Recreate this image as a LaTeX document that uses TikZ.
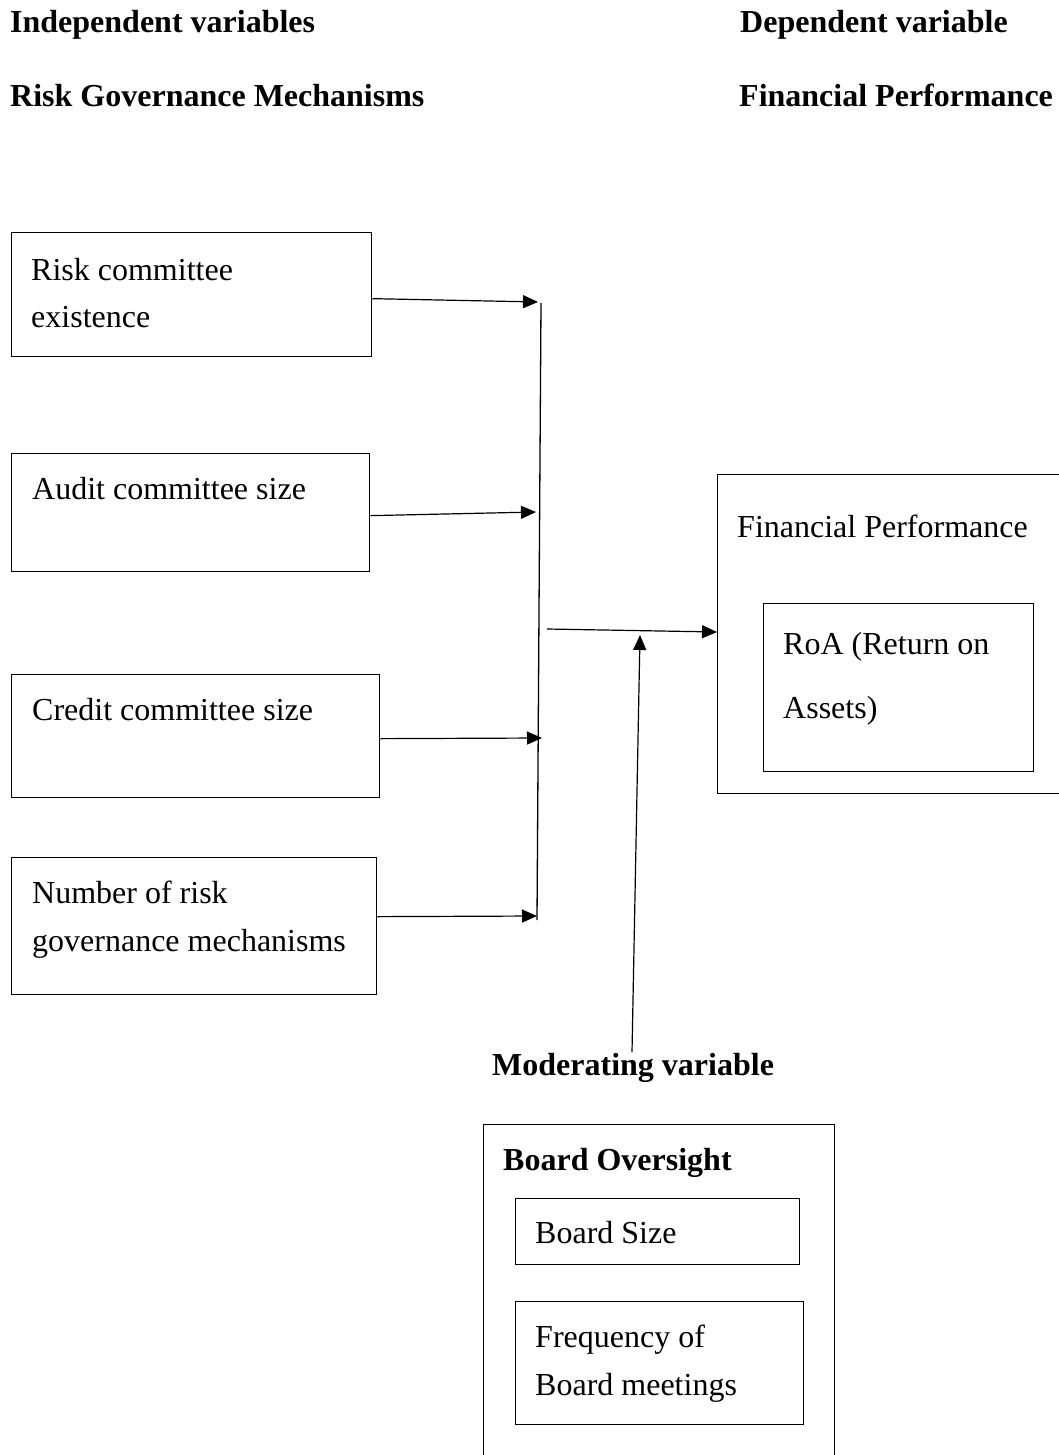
\documentclass[tikz,border=0pt]{standalone}
\usepackage{fontspec}
\setmainfont{Liberation Serif}
\usetikzlibrary{arrows.meta}
\begin{document}
\begin{tikzpicture}[x=1pt,y=-1pt,
  box/.style={draw,line width=1.3pt,anchor=north west,inner sep=0pt},
  txt/.style={anchor=base west,inner sep=0pt,font=\fontsize{32}{48}\selectfont},
  btxt/.style={anchor=base west,inner sep=0pt,font=\fontsize{32}{48}\selectfont\bfseries},
  arr/.style={line width=1.2pt,-{Triangle[length=15pt,width=13pt]}},
  ln/.style={line width=1.3pt}]
\useasboundingbox[fill=white] (0,0) rectangle (1059,1455);
% headers
\node[btxt] (h1) at (10,33) {Independent variables};
\node[btxt] (h2) at (740,33) {Dependent variable};
\node[btxt] (h3) at (10,107) {Risk Governance Mechanisms};
\node[btxt] (h4) at (739,107) {Financial Performance};
% independent boxes
\node[box,minimum width=360pt,minimum height=124pt] (b1) at (11,232) {};
\node[txt] (t1a) at (31,280) {Risk committee};
\node[txt] (t1b) at (31,327) {existence};
\node[box,minimum width=358pt,minimum height=118pt] (b2) at (11,453) {};
\node[txt] (t2) at (32,499) {Audit committee size};
\node[box,minimum width=368pt,minimum height=123pt] (b3) at (11,674) {};
\node[txt] (t3) at (32,720) {Credit committee size};
\node[box,minimum width=365pt,minimum height=137pt] (b4) at (11,857) {};
\node[txt] (t4a) at (32,903) {Number of risk};
\node[txt] (t4b) at (32,951) {governance mechanisms};
% collecting line
\coordinate (vtop) at (541,303);
\coordinate (vbot) at (537,920);
\draw[ln] (vtop) -- (vbot);
\coordinate (e1) at (538,302);
\coordinate (e2) at (536,512);
\coordinate (e3) at (542,738);
\coordinate (e4) at (537,916);
\draw[arr] ([yshift=-4pt]b1.east) -- (e1);
\draw[arr] ([yshift=-3pt]b2.east) -- (e2);
\draw[arr] ([yshift=-2.5pt]b3.east) -- (e3);
\draw[arr] ([yshift=9.5pt]b4.east) -- (e4);
% dependent box
\node[box,minimum width=360pt,minimum height=319pt] (dep) at (717,474) {};
\node[txt] (dept) at (737,537) {Financial Performance};
\node[box,minimum width=270pt,minimum height=168pt] (roa) at (763,603) {};
\node[txt] (roa1) at (783,654) {RoA (Return on};
\node[txt] (roa2) at (783,718) {Assets)};
% main arrow
\coordinate (ms) at (547,629);
\draw[arr] (ms) -- (dep.west |- 0,632);
% moderating
\node[btxt] (modl) at (492,1075) {Moderating variable};
\coordinate (ub) at (632,1052);
\coordinate (ut) at (640,635);
\draw[arr] (ub) -- (ut);
\node[box,minimum width=351pt,minimum height=360pt] (bo) at (483,1124) {};
\node[btxt] (bot) at (503,1170) {Board Oversight};
\node[box,minimum width=284pt,minimum height=66pt] (bs) at (515,1198) {};
\node[txt] (bst) at (535,1243) {Board Size};
\node[box,minimum width=288pt,minimum height=123pt] (fq) at (515,1301) {};
\node[txt] (fq1) at (535,1347) {Frequency of};
\node[txt] (fq2) at (535,1395) {Board meetings};
\end{tikzpicture}
\end{document}
